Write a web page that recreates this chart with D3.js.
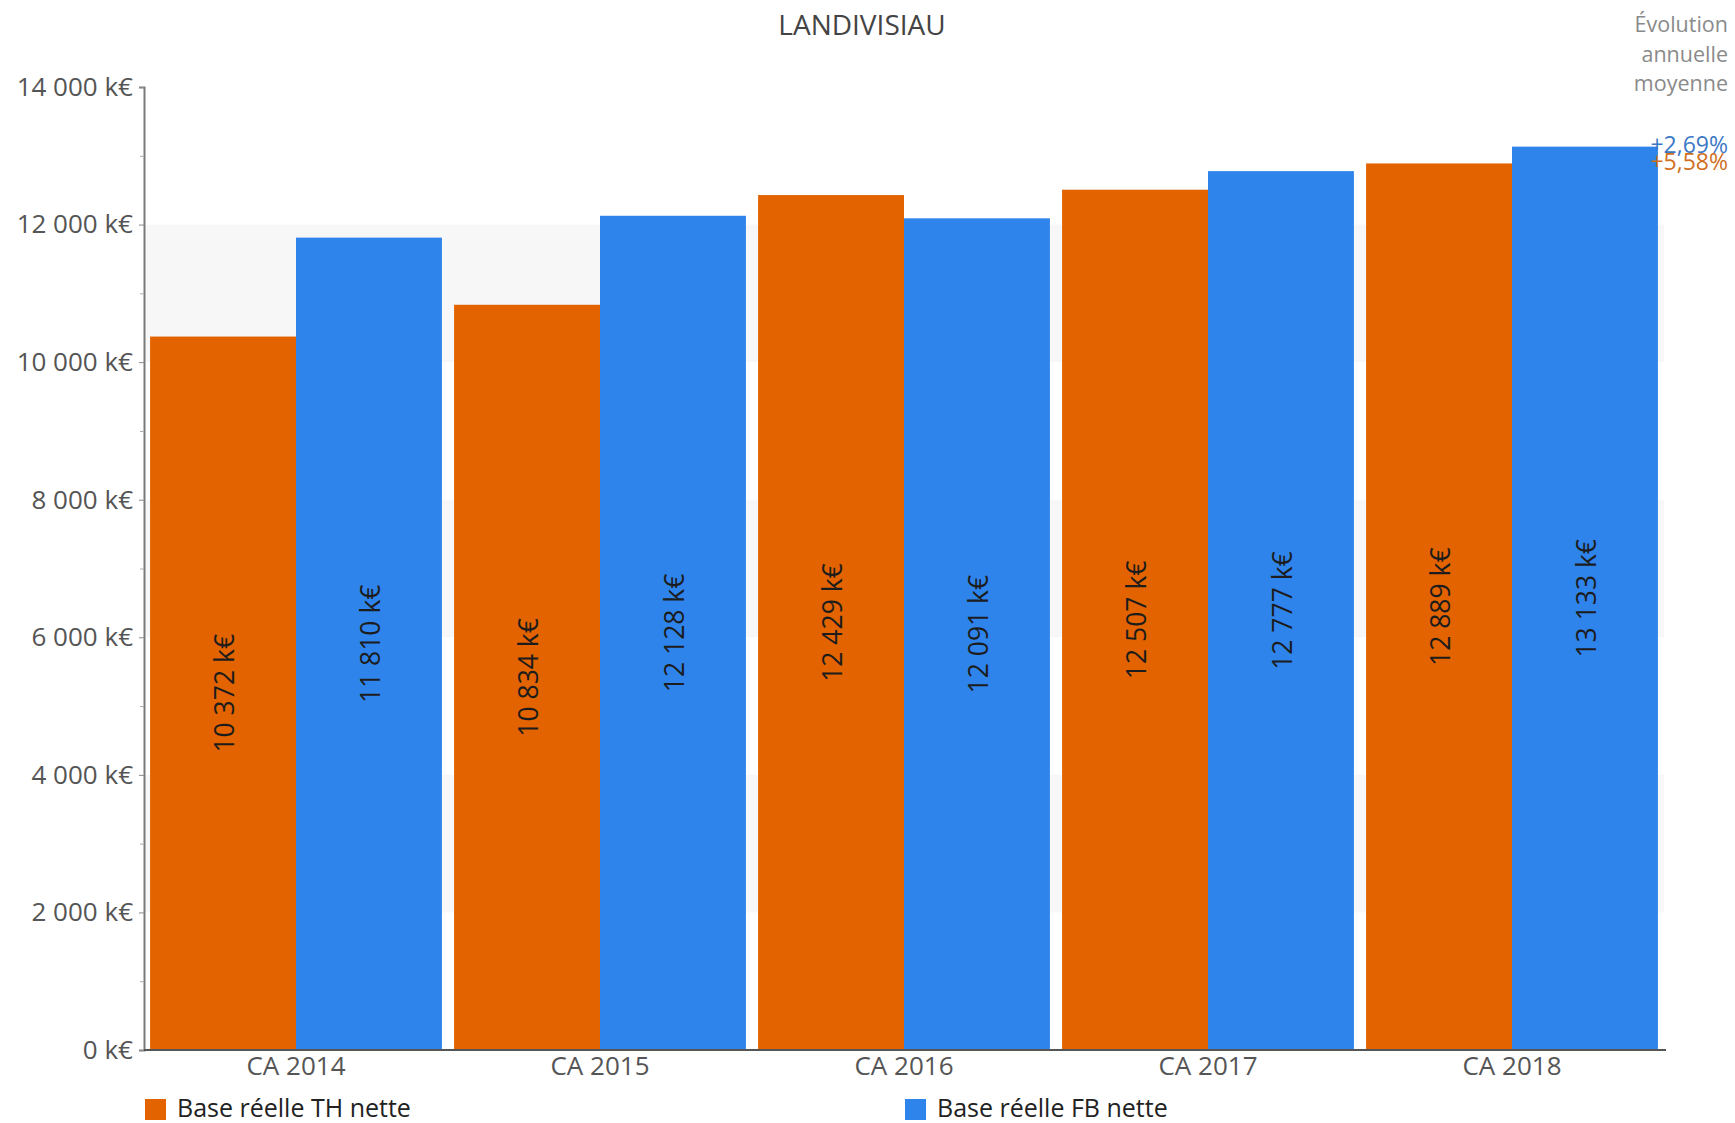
<!DOCTYPE html>
<html>
<head>
<meta charset="utf-8">
<script src="https://cdn.jsdelivr.net/npm/d3@7/dist/d3.min.js"></script>
<style>
  html, body { margin: 0; padding: 0; background: #ffffff; }
  svg { display: block; }
  text { font-family: "Open Sans", "Noto Sans", sans-serif; }
</style>
</head>
<body>
<svg id="chart" width="1735" height="1123"></svg>
<script>
const title = "LANDIVISIAU";
const categories = ["CA 2014", "CA 2015", "CA 2016", "CA 2017", "CA 2018"];
const seriesNames = ["Base réelle TH nette", "Base réelle FB nette"];
const thValues = [10372, 10834, 12429, 12507, 12889];
const fbValues = [11810, 12128, 12091, 12777, 13133];
const seriesColors = ["#e26300", "#2f84ec"];
const yTicks = [0, 2000, 4000, 6000, 8000, 10000, 12000, 14000];
const evolutionTitle = ["Évolution", "annuelle", "moyenne"];
const evolutionValues = ["+2,69%", "+5,58%"];
const evolutionColors = ["#3b78c6", "#d0701f"];

const fmt = v => d3.format(",")(v).replace(/,/g, " ") + " k€";

const svg = d3.select("#chart");
const mLeft = 144, mRight = 1664, mTop = 87, mBottom = 1050;

const x = d3.scaleBand().domain(categories).range([mLeft, mRight]).paddingInner(0.04).paddingOuter(0.02);
const xs = d3.scaleBand().domain([0, 1]).range([0, x.bandwidth()]).padding(0);
const y = d3.scaleLinear().domain([0, 14000]).range([mBottom, mTop]);

// alternating bands
const bands = [[10000, 12000], [6000, 8000], [2000, 4000]];
svg.append("g").selectAll("rect").data(bands).join("rect")
  .attr("x", mLeft).attr("width", mRight - mLeft)
  .attr("y", d => y(d[1])).attr("height", d => y(d[0]) - y(d[1]))
  .attr("fill", "#f7f7f7");

// bars
const rows = categories.map((c, i) => ({ c, vals: [thValues[i], fbValues[i]] }));
const g = svg.append("g");
rows.forEach(r => {
  r.vals.forEach((v, k) => {
    const bx = x(r.c) + xs(k);
    g.append("rect")
      .attr("x", bx).attr("width", xs.bandwidth())
      .attr("y", y(v)).attr("height", y(0) - y(v))
      .attr("fill", seriesColors[k]);
    const cx = bx + xs.bandwidth() / 2;
    const cy = (y(v) + y(0)) / 2;
    g.append("text")
      .attr("transform", `translate(${cx + 1},${cy}) rotate(-90)`)
      .attr("text-anchor", "middle").attr("dominant-baseline", "central")
      .attr("font-size", 26.5).attr("fill", "#1c1c1c")
      .text(fmt(v));
  });
});

// y axis
const yAxis = d3.axisLeft(y).tickValues(yTicks).tickFormat(fmt).tickSize(5).tickPadding(6);
const ya = svg.append("g").attr("transform", `translate(${mLeft},0)`).call(yAxis);
ya.select(".domain").attr("stroke", "#7a7a7a").attr("stroke-width", 2);
ya.selectAll(".tick line").attr("stroke", "#888");
ya.selectAll(".tick text").attr("font-size", 26).attr("fill", "#555").attr("font-family", "Open Sans");
// minor ticks
const yMinor = d3.axisLeft(y).tickValues(d3.range(1000, 14000, 2000)).tickFormat("").tickSize(4);
const ym = svg.append("g").attr("transform", `translate(${mLeft},0)`).call(yMinor);
ym.select(".domain").remove();
ym.selectAll(".tick line").attr("stroke", "#aaa");

// x axis
const xAxis = d3.axisBottom(x).tickSize(0).tickPadding(7);
const xa = svg.append("g").attr("transform", `translate(0,${mBottom})`).call(xAxis);
xa.select(".domain").attr("d", `M${mLeft},0H${mRight + 2}`).attr("stroke", "#555").attr("stroke-width", 2);
xa.selectAll(".tick text").attr("font-size", 26).attr("fill", "#555").attr("font-family", "Open Sans");

// title
svg.append("text").attr("x", 862).attr("y", 35).attr("text-anchor", "middle")
  .attr("font-size", 28).attr("fill", "#444").text(title);

// evolution annotation
evolutionTitle.forEach((t, i) => {
  svg.append("text").attr("x", 1728).attr("y", 32 + i * 29.5).attr("text-anchor", "end")
    .attr("font-size", 21.5).attr("fill", "#8a8a8a").text(t);
});
evolutionValues.forEach((t, i) => {
  svg.append("text").attr("x", 1728).attr("y", 153 + i * 17).attr("text-anchor", "end")
    .attr("font-size", 23).attr("fill", evolutionColors[i]).text(t);
});

// legend
const legX = [145, 905];
seriesNames.forEach((n, i) => {
  svg.append("rect").attr("x", legX[i]).attr("y", 1099).attr("width", 21).attr("height", 21)
    .attr("fill", seriesColors[i]);
  svg.append("text").attr("x", legX[i] + 32).attr("y", 1117)
    .attr("font-size", 25).attr("fill", "#222").text(n);
});
</script>
</body>
</html>
